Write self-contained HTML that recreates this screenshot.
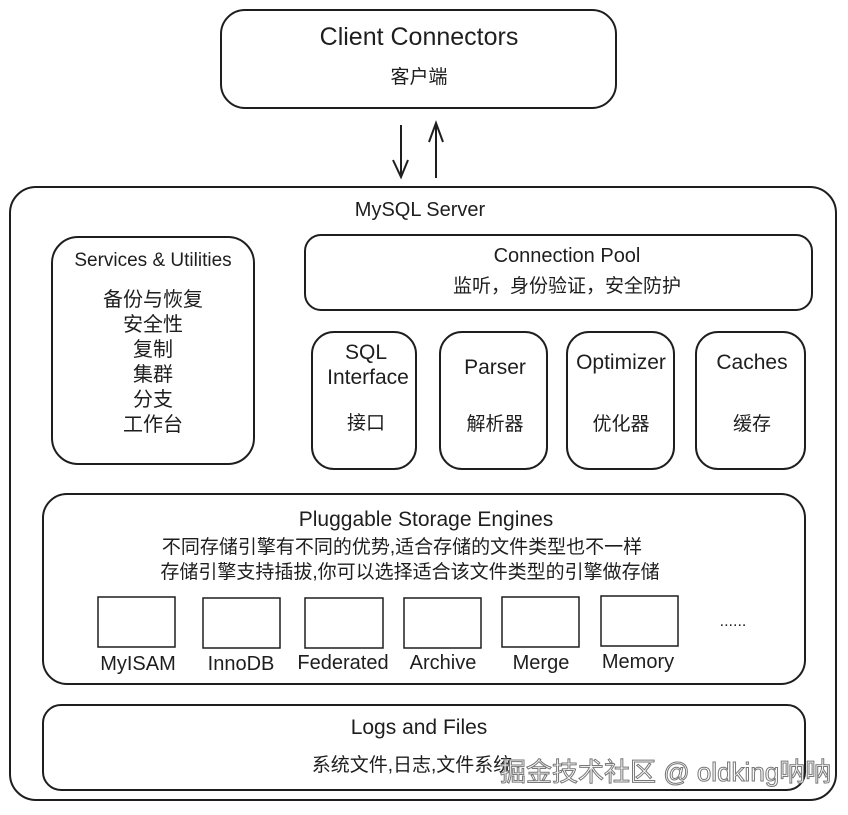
<!DOCTYPE html>
<html><head><meta charset="utf-8"><style>
html,body{margin:0;padding:0;background:#fff;}
svg text{font-family:"Liberation Sans","Noto Sans CJK SC",sans-serif;fill:#1e1e1e;}
.c{font-size:19px;}
</style></head><body>
<svg width="848" height="810" viewBox="0 0 848 810" xmlns="http://www.w3.org/2000/svg">
<g fill="none" stroke="#1e1e1e" stroke-width="2">
<rect x="221" y="10" width="395" height="98" rx="24"/>
<rect x="10" y="187" width="826" height="613" rx="26"/>
<rect x="52" y="237" width="202" height="227" rx="26"/>
<rect x="305" y="235" width="507" height="75" rx="16"/>
<rect x="312" y="332" width="104" height="137" rx="22"/>
<rect x="440" y="332" width="107" height="137" rx="22"/>
<rect x="567" y="332" width="107" height="137" rx="22"/>
<rect x="696" y="332" width="109" height="137" rx="22"/>
<rect x="43" y="494" width="762" height="190" rx="24"/>
<rect x="43" y="705" width="762" height="85" rx="18"/>
<g stroke-width="1.5">
<rect x="98" y="597" width="77" height="50"/>
<rect x="203" y="598" width="77" height="50"/>
<rect x="305" y="598" width="78" height="50"/>
<rect x="404" y="598" width="77" height="50"/>
<rect x="502" y="597" width="77" height="50"/>
<rect x="601" y="596" width="77" height="50"/>
</g>
<path d="M401 125 L401 176 M393 160 L401 177 L408 160"/>
<path d="M436 178 L436 124 M429 142 L436 123 L443 142"/>
</g>
<text x="419" y="45" text-anchor="middle" style="font-size:25px">Client Connectors</text>
<text class="c" x="419" y="83" text-anchor="middle">客户端</text>
<text x="420" y="216" text-anchor="middle" style="font-size:20px">MySQL Server</text>
<text x="153" y="266" text-anchor="middle" style="font-size:19px">Services &amp; Utilities</text>
<g text-anchor="middle" style="font-size:20px">
<text x="153" y="306">备份与恢复</text>
<text x="153" y="331">安全性</text>
<text x="153" y="356">复制</text>
<text x="153" y="381">集群</text>
<text x="153" y="406">分支</text>
<text x="153" y="431">工作台</text>
</g>
<text x="567" y="262" text-anchor="middle" style="font-size:20px">Connection Pool</text>
<text class="c" x="567" y="292" text-anchor="middle">监听，身份验证，安全防护</text>
<g text-anchor="middle" style="font-size:21px">
<text x="366" y="359">SQL</text>
<text x="368" y="384">Interface</text>
<text x="495" y="374">Parser</text>
<text x="621" y="369">Optimizer</text>
<text x="752" y="369">Caches</text>
</g>
<g class="c" text-anchor="middle">
<text x="366" y="429">接口</text>
<text x="495" y="430">解析器</text>
<text x="621" y="430">优化器</text>
<text x="752" y="430">缓存</text>
</g>
<text x="426" y="526" text-anchor="middle" style="font-size:21px">Pluggable Storage Engines</text>
<text class="c" x="402" y="553" text-anchor="middle">不同存储引擎有不同的优势,适合存储的文件类型也不一样</text>
<text class="c" x="410" y="578" text-anchor="middle">存储引擎支持插拔,你可以选择适合该文件类型的引擎做存储</text>
<g text-anchor="middle" style="font-size:20px">
<text x="138" y="670">MyISAM</text>
<text x="241" y="670">InnoDB</text>
<text x="343" y="669">Federated</text>
<text x="443" y="669">Archive</text>
<text x="541" y="669">Merge</text>
<text x="638" y="668">Memory</text>
</g>
<text x="733" y="626" text-anchor="middle" style="font-size:16px">......</text>
<text x="419" y="734" text-anchor="middle" style="font-size:21px">Logs and Files</text>
<text class="c" x="412" y="771" text-anchor="middle">系统文件,日志,文件系统</text>
<text x="500" y="781" style="font-size:26px;fill:#fff;stroke:#777;stroke-width:1">掘金技术社区 @ oldking呐呐</text>
</svg>
</body></html>
